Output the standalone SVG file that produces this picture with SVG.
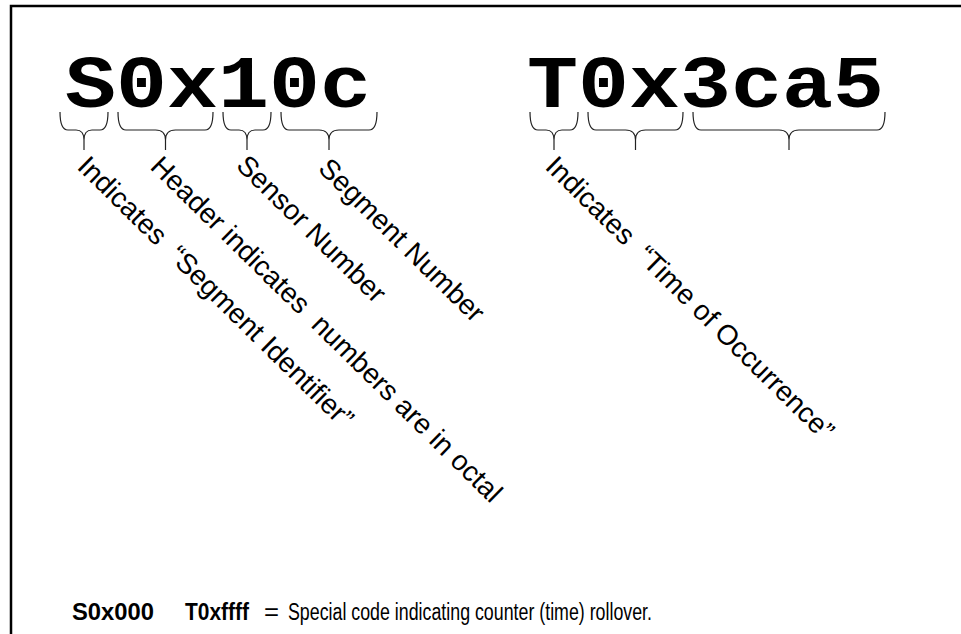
<svg xmlns="http://www.w3.org/2000/svg" width="961" height="634" viewBox="0 0 961 634">
<style>
.code{font-family:"Liberation Mono","Courier New",monospace;font-weight:bold;font-size:85px;fill:#000}
.lbl{font-family:"Liberation Sans",Arial,sans-serif;font-size:28px;fill:#000}
.foot{font-family:"Liberation Sans",Arial,sans-serif;font-size:23px;fill:#000}
.b{font-weight:bold}
.brace{fill:none;stroke:#222;stroke-width:1.2}
</style>
<rect x="0" y="0" width="961" height="634" fill="#fff"/>
<rect x="11" y="6" width="1000" height="700" fill="none" stroke="#000" stroke-width="2.5"/>
<g id="code-s"><text class="code" transform="translate(65,107) scale(1,0.88)">S0x10c</text></g>
<g id="code-t"><text class="code" transform="translate(527,107) scale(1,0.88)">T0x3ca5</text></g>
<g id="connectors">
<path class="brace" d="M60,112 Q60,130 68,130 H76 Q84,130 84,140 V150 M108,112 Q108,130 100,130 H92 Q84,130 84,140"/>
<path class="brace" d="M118,112 Q118,130 126,130 H155.5 Q165.5,130 165.5,140 V150 M213,112 Q213,130 205,130 H175.5 Q165.5,130 165.5,140"/>
<path class="brace" d="M223,112 Q223,130 231,130 H239 Q247,130 247,140 V150 M271,112 Q271,130 263,130 H255 Q247,130 247,140"/>
<path class="brace" d="M281,112 Q281,130 289,130 H319 Q329,130 329,140 V150 M377,112 Q377,130 369,130 H339 Q329,130 329,140"/>
<path class="brace" d="M530,112 Q530,130 538,130 H546 Q554,130 554,140 V150 M578,112 Q578,130 570,130 H562 Q554,130 554,140"/>
<path class="brace" d="M588,112 Q588,130 596,130 H625.5 Q635.5,130 635.5,140 V150 M683,112 Q683,130 675,130 H645.5 Q635.5,130 635.5,140"/>
<path class="brace" d="M693,112 Q693,130 701,130 H779 Q789,130 789,140 V150 M885,112 Q885,130 877,130 H799 Q789,130 789,140"/>
</g>
<g id="label-segid"><text class="lbl" xml:space="preserve" transform="translate(76,168) rotate(44.5)">Indicates  “Segment Identifier”</text></g>
<g id="label-header"><text class="lbl" xml:space="preserve" transform="translate(149,168) rotate(44.5)">Header indicates  numbers are in octal</text></g>
<g id="label-sensor"><text class="lbl" transform="translate(235,167) rotate(44.5)">Sensor Number</text></g>
<g id="label-segnum"><text class="lbl" transform="translate(317,170) rotate(44.5)">Segment Number</text></g>
<g id="label-time"><text class="lbl" xml:space="preserve" transform="translate(544,168) rotate(44.5)">Indicates  “Time of Occurrence”</text></g>
<g id="footnote">
<text class="foot b" x="72" y="620" textLength="82" lengthAdjust="spacingAndGlyphs">S0x000</text>
<text class="foot b" x="185" y="620" textLength="64" lengthAdjust="spacingAndGlyphs">T0xffff</text>
<text class="foot" x="264" y="620" textLength="15" lengthAdjust="spacingAndGlyphs">=</text>
<text class="foot" x="288" y="620" textLength="364" lengthAdjust="spacingAndGlyphs">Special code indicating counter (time) rollover.</text>
</g>
</svg>
